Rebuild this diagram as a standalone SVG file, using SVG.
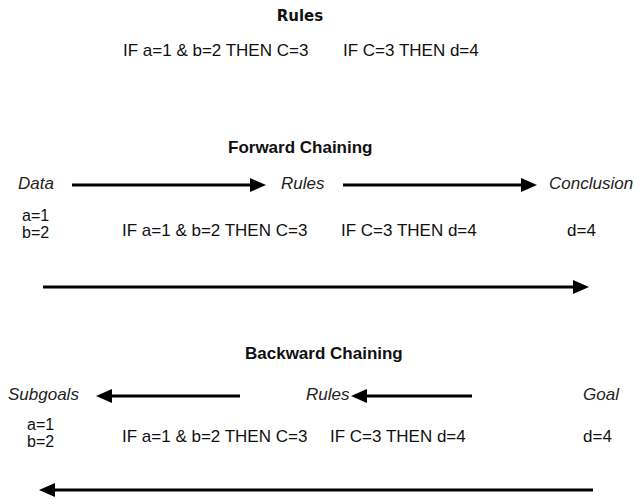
<svg xmlns="http://www.w3.org/2000/svg" width="634" height="499" viewBox="0 0 634 499">
  <style>
    text { font-family: "Liberation Sans", Arial, sans-serif; font-size: 17px; fill: #111; }
    .title { font-weight: bold; }
    .head { font-family: "DejaVu Sans", Verdana, sans-serif; font-weight: bold; font-size: 15px; }
    .lbl { font-style: italic; fill: #222; }
    .val { font-size: 16px; }
    .conn { stroke: #000; stroke-width: 3; fill: none; marker-end: url(#arrow); }
  </style>
  <defs>
    <marker id="arrow" markerUnits="userSpaceOnUse" markerWidth="17" markerHeight="15" refX="1" refY="7" orient="auto">
      <path d="M0,0 L16,7 L0,14 Z" fill="#000"/>
    </marker>
  </defs>

  <!-- rule set -->
  <g id="rules-title"><text class="head" x="300" y="21" text-anchor="middle">Rules</text></g>
  <g id="rules-list">
    <text x="123" y="56">IF a=1 &amp; b=2 THEN C=3</text>
    <text x="343" y="56">IF C=3 THEN d=4</text>
  </g>

  <!-- forward chaining -->
  <g id="fwd-title"><text class="title" x="228" y="153">Forward Chaining</text></g>
  <g id="fwd-data">
    <text class="lbl" x="18" y="189">Data</text>
    <text class="val" x="22" y="221">a=1</text>
    <text class="val" x="22" y="238">b=2</text>
  </g>
  <g id="fwd-rules">
    <text class="lbl" x="281" y="189">Rules</text>
    <text x="122" y="236">IF a=1 &amp; b=2 THEN C=3</text>
    <text x="341" y="236">IF C=3 THEN d=4</text>
  </g>
  <g id="fwd-conclusion">
    <text class="lbl" x="549" y="189">Conclusion</text>
    <text x="567" y="236">d=4</text>
  </g>

  <!-- backward chaining -->
  <g id="bwd-title"><text class="title" x="245" y="359">Backward Chaining</text></g>
  <g id="bwd-subgoals">
    <text class="lbl" x="8" y="400">Subgoals</text>
    <text class="val" x="27" y="430">a=1</text>
    <text class="val" x="27" y="447">b=2</text>
  </g>
  <g id="bwd-rules">
    <text class="lbl" x="306" y="400">Rules</text>
    <text x="122" y="442">IF a=1 &amp; b=2 THEN C=3</text>
    <text x="330" y="442">IF C=3 THEN d=4</text>
  </g>
  <g id="bwd-goal">
    <text class="lbl" x="583" y="400">Goal</text>
    <text x="583" y="442">d=4</text>
  </g>

  <g id="connectors">
    <line class="conn" x1="72" y1="185" x2="251" y2="185"/>
    <line class="conn" x1="343" y1="185" x2="522" y2="185"/>
    <line class="conn" x1="43" y1="287" x2="574" y2="287"/>
    <line class="conn" x1="240" y1="396" x2="111" y2="396"/>
    <line class="conn" x1="472" y1="396" x2="366" y2="396"/>
    <line class="conn" x1="593" y1="490" x2="54" y2="490"/>
  </g>
</svg>
